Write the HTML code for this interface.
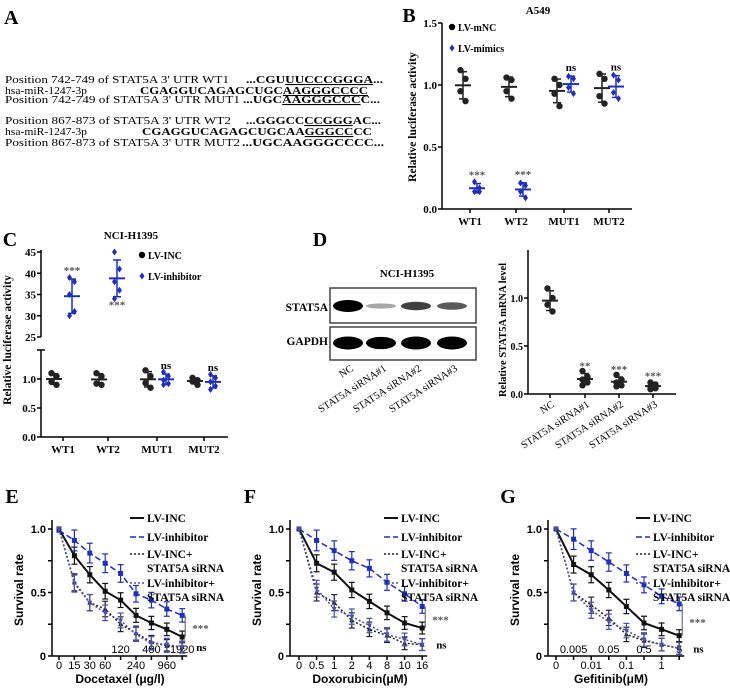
<!DOCTYPE html>
<html><head><meta charset="utf-8"><style>
body{margin:0;background:#fff}
svg{display:block;font-family:"Liberation Serif",serif}
.sans{font-family:"Liberation Sans",sans-serif}
</style></head><body>
<svg id="fig" width="730" height="693" viewBox="0 0 730 693" xmlns="http://www.w3.org/2000/svg">
<g font-size="11">
<text x="4" y="24" font-size="20" font-weight="bold">A</text>
<text x="5" y="83" textLength="224" lengthAdjust="spacingAndGlyphs">Position 742-749 of STAT5A 3' UTR WT1</text>
<text x="246" y="83" textLength="137" lengthAdjust="spacingAndGlyphs" font-weight="bold">...CGU<tspan text-decoration="underline">UUCCCGGGA</tspan>...</text>
<text x="5" y="94" textLength="82" lengthAdjust="spacingAndGlyphs">hsa-miR-1247-3p</text>
<text x="140" y="94" textLength="228" lengthAdjust="spacingAndGlyphs" font-weight="bold">CGAGGUCAGAGCUGC<tspan text-decoration="underline">AAGGGCCCC</tspan></text>
<text x="5" y="103" textLength="235" lengthAdjust="spacingAndGlyphs">Position 742-749 of STAT5A 3' UTR MUT1</text>
<text x="243" y="103" textLength="137" lengthAdjust="spacingAndGlyphs" font-weight="bold">...UGC<tspan text-decoration="underline">AAGGGCCC</tspan>C...</text>
<text x="5" y="124" textLength="226" lengthAdjust="spacingAndGlyphs">Position 867-873 of STAT5A 3' UTR WT2</text>
<text x="246" y="124" textLength="135" lengthAdjust="spacingAndGlyphs" font-weight="bold">...GGGCC<tspan text-decoration="underline">CCGGG</tspan>AC...</text>
<text x="5" y="135" textLength="82" lengthAdjust="spacingAndGlyphs">hsa-miR-1247-3p</text>
<text x="142" y="135" textLength="230" lengthAdjust="spacingAndGlyphs" font-weight="bold">CGAGGUCAGAGCUGCAA<tspan text-decoration="underline">GGGCC</tspan>CC</text>
<text x="5" y="146" textLength="235" lengthAdjust="spacingAndGlyphs">Position 867-873 of STAT5A 3' UTR MUT2</text>
<text x="242" y="146" textLength="142" lengthAdjust="spacingAndGlyphs" font-weight="bold">...UGCAAGGGCCCC...</text>
</g>
<g id="pB"></g>
<g id="pC"></g>
<g id="pD"></g>
<g id="pE"></g>
<g id="pF"></g>
<g id="pG"></g>
</svg>
<script>
// ---- Panel B data
const bCats=["WT1","WT2","MUT1","MUT2"];
const bNC=[[1.12,1.05,0.95,0.87],[1.06,1.04,0.95,0.89],[1.05,1.0,0.93,0.83],[1.09,1.05,0.91,0.85]];
const bMim=[[0.22,0.17,0.14,0.14],[0.21,0.19,0.14,0.09],[1.07,1.05,0.98,0.93],[1.08,1.04,0.94,0.89]];
const bSig=["***","***","ns","ns"];
const bTicks=[0,0.5,1.0,1.5];
// ---- Panel C data
const cCats=["WT1","WT2","MUT1","MUT2"];
const cINC=[[1.1,1.05,0.95,0.9],[1.1,1.05,0.92,0.9],[1.15,1.05,0.93,0.85],[1.02,0.98,0.96,0.9]];
const cInh=[[39,38,35,31,30],[45,41,38,36,34],[1.12,1.05,0.98,0.92,0.9],[1.08,1.02,0.95,0.88,0.82]];
const cSig=["***","***","ns","ns"];
const cTicksLow=[0,0.5,1.0];
const cTicksHigh=[25,30,35,40,45];
// ---- Panel D data
const dCats=["NC","STAT5A siRNA#1","STAT5A siRNA#2","STAT5A siRNA#3"];
const dVals=[[1.1,1.0,0.93,0.86],[0.24,0.18,0.15,0.12,0.09],[0.2,0.15,0.12,0.09,0.08],[0.12,0.1,0.08,0.06,0.05]];
const dSig=["","**","***","***"];
const dTicks=[0,0.5,1.0];
const dBandStat=[1.0,0.15,0.55,0.45];
const dBandGapdh=[1.0,0.95,1.0,1.0];
// ---- Panels E/F/G data
const eDoses=["0","15","30","60","120","240","480","960","1920"];
const eINC=[1.0,0.79,0.64,0.51,0.44,0.32,0.26,0.21,0.15];
const eInh=[0.99,0.91,0.81,0.73,0.65,0.49,0.44,0.37,0.32];
const eINCsi=[1.0,0.58,0.42,0.37,0.25,0.18,0.11,0.08,0.07];
const eInhsi=[1.0,0.57,0.42,0.34,0.28,0.17,0.10,0.09,0.07];
const fDoses=["0","0.5","1","2","4","8","10","16"];
const fINC=[1.0,0.73,0.66,0.52,0.43,0.34,0.26,0.22];
const fInh=[1.0,0.91,0.83,0.75,0.69,0.58,0.49,0.39];
const fINCsi=[1.0,0.50,0.42,0.28,0.21,0.16,0.10,0.09];
const fInhsi=[1.0,0.53,0.37,0.31,0.24,0.17,0.13,0.09];
const gDoses=["0","0.005","0.01","0.05","0.1","0.5","1","5"];
const gINC=[1.0,0.72,0.64,0.52,0.39,0.26,0.21,0.16];
const gInh=[1.0,0.92,0.83,0.74,0.65,0.56,0.47,0.41];
const gINCsi=[1.0,0.50,0.40,0.30,0.17,0.12,0.09,0.06];
const gInhsi=[1.0,0.50,0.36,0.27,0.20,0.13,0.09,0.06];
const survTicks=[0,0.5,1.0];

const NS="http://www.w3.org/2000/svg";
const BLUE="#1f2fb8";
function el(p,t,a,txt){const e=document.createElementNS(NS,t);for(const k in a)e.setAttribute(k,a[k]);if(txt!==undefined)e.textContent=txt;p.appendChild(e);return e;}
function line(p,x1,y1,x2,y2,c,w,name,dash){const e=el(p,"line",{x1,y1,x2,y2,stroke:c||"#000","stroke-width":w||1.5});if(dash)e.setAttribute("stroke-dasharray",dash);

return e;}
function txt(p,x,y,s,o,name){const e=el(p,"text",Object.assign({x,y,"font-size":11,"font-weight":"bold","text-anchor":"middle"},o||{}),s);

return e;}
function mean(a){return a.reduce((s,v)=>s+v,0)/a.length;}
function sd(a){const m=mean(a);return Math.sqrt(a.reduce((s,v)=>s+(v-m)*(v-m),0)/(a.length-1));}
function marker(p,x,y,c,type,name){let e;
 if(type==="dot")e=el(p,"circle",{cx:x,cy:y,r:3.2,fill:c});
 else if(type==="diamond")e=el(p,"polygon",{points:`${x},${y-3.5} ${x+2.5},${y} ${x},${y+3.5} ${x-2.5},${y}`,fill:c});
 else if(type==="tri")e=el(p,"polygon",{points:`${x},${y-3} ${x+2.5},${y+2} ${x-2.5},${y+2}`,fill:c});
 else if(type==="tridown")e=el(p,"polygon",{points:`${x},${y+3} ${x+2.5},${y-2} ${x-2.5},${y-2}`,fill:c});
 else e=el(p,"rect",{x:x-2.5,y:y-2.5,width:5,height:5,fill:c});
 
 return e;}
function group(p,x,vals,yf,c,type,name){
 const m=mean(vals),s=sd(vals);
 line(p,x,yf(m+s),x,yf(m-s),c,1.5,name+'-sd');
 line(p,x-4,yf(m+s),x+4,yf(m+s),c,1.5,name+'-cap');
 line(p,x-4,yf(m-s),x+4,yf(m-s),c,1.5,name+'-cap');
 line(p,x-8,yf(m),x+8,yf(m),c,2,name+'-mean');
 vals.forEach((v,i)=>marker(p,x+(i%2?2.5:-2.5),yf(v),c,type,name+'-point'));
}
function yAxis(p,x,y0,y1,ticks,yf,fmt,fs){line(p,x,y0,x,y1,"#000",1.5,'y-axis');
 ticks.forEach(t=>{line(p,x-4,yf(t),x,yf(t),"#000",1.5,'y-tick');txt(p,x-5,yf(t)+4,fmt(t),{"text-anchor":"end","font-size":fs||11},'y-tick-label');});}

// ---- Panel B
(function(){const g=document.getElementById("pB");
 const yf=v=>209-v*124;
 txt(g,409,22,"B",{"font-size":20},'panel-b-label');
 txt(g,538,14,"A549",{"font-size":11},'chart-title');
 yAxis(g,442,23,209,bTicks,yf,t=>t.toFixed(1));
 line(g,442,209,632,209,"#000",1.5,'x-axis');
 const xs=[470,516,564,609];
 bCats.forEach((c,i)=>{line(g,xs[i],209,xs[i],213,"#000",1.5,'x-tick');txt(g,xs[i],225,c,{},'x-tick-label');
  group(g,xs[i]-7,bNC[i],yf,"#222","dot",'lv-mnc-'+c.toLowerCase());
  group(g,xs[i]+7,bMim[i],yf,BLUE,"diamond",'lv-mimics-'+c.toLowerCase());
  const m=mean(bMim[i]),s=sd(bMim[i]);txt(g,xs[i]+7,yf(m+s)-5,bSig[i],{fill:bSig[i]==="ns"?"#000":"#555"},'significance');});
 marker(g,452,27,"#000","dot",'legend-marker-mnc');txt(g,458,31,"LV-mNC",{"text-anchor":"start","font-size":10},'legend-entry');
 marker(g,452,48,BLUE,"diamond",'legend-marker-mimics');txt(g,458,52,"LV-mimics",{"text-anchor":"start","font-size":10},'legend-entry');
 txt(g,0,0,"Relative luciferase activity",{transform:"translate(416,117) rotate(-90)","font-size":11.5},'y-axis-title');
})();

// ---- Panel C
(function(){const g=document.getElementById("pC");
 const yl=v=>437-v*58, yh=v=>337-(v-25)*4.25;
 txt(g,10,246,"C",{"font-size":20},'panel-c-label');
 txt(g,131,239,"NCI-H1395",{"font-size":11},'chart-title');
 yAxis(g,41,250,337,cTicksHigh,yh,t=>String(t));
 yAxis(g,41,350,437,cTicksLow,yl,t=>t.toFixed(1));
 line(g,37,350,45,350,"#000",1.5,'axis-break');
 line(g,41,437,228,437,"#000",1.5,'x-axis');
 const xs=[63,108,157,204];
 cCats.forEach((c,i)=>{line(g,xs[i],437,xs[i],441,"#000",1.5,'x-tick');txt(g,xs[i],453,c,{},'x-tick-label');
  group(g,xs[i]-9,cINC[i],yl,"#222","dot",'lv-inc-'+c.toLowerCase());
  const yf=i<2?yh:yl;group(g,xs[i]+9,cInh[i],yf,BLUE,"diamond",'lv-inhibitor-'+c.toLowerCase());
  const m=mean(cInh[i]),s=sd(cInh[i]);
  if(i===1)txt(g,xs[i]+9,yf(m-s)+12,cSig[i],{fill:"#555"},'significance');
  else txt(g,xs[i]+9,yf(m+s)-5,cSig[i],{fill:i===0?"#555":"#000"},'significance');});
 marker(g,142,255,"#000","dot",'legend-marker-inc');txt(g,148,259,"LV-INC",{"text-anchor":"start","font-size":10},'legend-entry');
 marker(g,142,276,BLUE,"diamond",'legend-marker-inhibitor');txt(g,148,280,"LV-inhibitor",{"text-anchor":"start","font-size":10},'legend-entry');
 txt(g,0,0,"Relative luciferase activity",{transform:"translate(11,340) rotate(-90)","font-size":11.5},'y-axis-title');
})();

// ---- Panel D
(function(){const g=document.getElementById("pD");
 txt(g,320,246,"D",{"font-size":20},'panel-d-label');
 txt(g,407,277,"NCI-H1395",{"font-size":11},'blot-title');
 const r1=el(g,"rect",{x:330,y:288,width:146,height:35,fill:"#fff",stroke:"#444","stroke-width":1.5});
 
 const r2=el(g,"rect",{x:330,y:327,width:146,height:33,fill:"#fff",stroke:"#444","stroke-width":1.5});
 
 txt(g,328,311,"STAT5A",{"text-anchor":"end","font-size":11.5},'blot-label');
 txt(g,328,345,"GAPDH",{"text-anchor":"end","font-size":11.5},'blot-label');
 const bx=[348,381,416,452];
 dBandStat.forEach((v,i)=>{const b=el(g,"ellipse",{cx:bx[i],cy:306,rx:15,ry:2+4*v,fill:"#000","fill-opacity":Math.min(1,0.2+v)});
  });
 dBandGapdh.forEach((v,i)=>{const b=el(g,"ellipse",{cx:bx[i],cy:343,rx:15,ry:6.5*v,fill:"#000"});
  });
 dCats.forEach((c,i)=>txt(g,0,0,c,{transform:`translate(${bx[i]+6},${370}) rotate(-33)`,"text-anchor":"end","font-size":10.5,"font-weight":"normal"},'blot-lane-label'));
 const yf=v=>394-v*96;
 yAxis(g,528,250,394,dTicks,yf,t=>t.toFixed(1),10);
 line(g,528,394,676,394,"#000",1.5,'x-axis');
 const xs=[550,585,619,653];
 dCats.forEach((c,i)=>{line(g,xs[i],394,xs[i],398,"#000",1.5,'x-tick');
  txt(g,0,0,c,{transform:`translate(${xs[i]+5},${406}) rotate(-33)`,"text-anchor":"end","font-size":10.5,"font-weight":"normal"},'x-tick-label');
  group(g,xs[i],dVals[i],yf,"#222","dot",'mrna-'+i);
  const m=mean(dVals[i]),s=sd(dVals[i]);if(dSig[i])txt(g,xs[i],yf(m+s)-4,dSig[i],{fill:"#555"},'significance');});
 txt(g,0,0,"Relative STAT5A mRNA level",{transform:"translate(506,330) rotate(-90)","font-size":10.5},'y-axis-title');
})();

// ---- Survival panels
function survival(id,L,ax,xs0,dx,doses,INC,Inh,INCsi,Inhsi,raised,title,titleX,lx){
 const g=document.getElementById(id);
 const yf=v=>656-v*127, xf=i=>xs0+i*dx;
 txt(g,ax-40,503,L,{"font-size":20},'panel-label');
 line(g,ax,520,ax,656,"#000",1.5,'y-axis');
 [0,0.25,0.5,0.75,1.0].forEach(t=>line(g,ax-4,yf(t),ax,yf(t),"#000",1.5,'y-tick'));
 survTicks.forEach(t=>txt(g,ax-6,yf(t)+4,t===0?"0":t.toFixed(1),{"text-anchor":"end","font-size":11,"class":"sans"},'y-tick-label'));
 const xend=xf(doses.length-1)+5;
 line(g,ax,656,xend,656,"#000",1.5,'x-axis');
 doses.forEach((d,i)=>{line(g,xf(i),656,xf(i),660,"#000",1.5,'x-tick');
  txt(g,xf(i),raised.includes(i)?653:669,d,{"font-size":11,"font-weight":"normal","class":"sans"},'x-tick-label');});
 txt(g,titleX,683,title,{"font-size":12,"class":"sans"},'x-axis-title');
 txt(g,0,0,"Survival rate",{transform:`translate(${ax-29},590) rotate(-90)`,"font-size":12,"class":"sans"},'y-axis-title');
 const series=[[INC,"#111","solid","sq","lv-inc"],[Inh,BLUE,"6,3","sq","lv-inhibitor"],[INCsi,"#222","2,2","tri","lv-inc-sirna"],[Inhsi,"#4a4fb0","2,2","tridown","lv-inhibitor-sirna"]];
 series.forEach(([v,c,d,m,n],si)=>{
  const pts=v.map((y,i)=>xf(i)+","+yf(y)).join(" ");
  const pl=el(g,"polyline",{points:pts,fill:"none",stroke:c,"stroke-width":si===0?2:1.5});
  if(d!=="solid")pl.setAttribute("stroke-dasharray",d);
  
  v.forEach((y,i)=>{if(i>0){const e=0.03+0.04*(si===1?1.4:1)*(1-i/(v.length*1.5));
    line(g,xf(i),yf(y+e),xf(i),yf(y-e),c,1.2,n+'-errorbar');
    line(g,xf(i)-3,yf(y+e),xf(i)+3,yf(y+e),c,1.2,n+'-errorbar-cap');
    line(g,xf(i)-3,yf(y-e),xf(i)+3,yf(y-e),c,1.2,n+'-errorbar-cap');}
   marker(g,xf(i),yf(y),c,m,n+'-point');});});
 const last=doses.length-1, xl=xf(last)+8;
 line(g,xl-5,yf(Inh[last]),xl-5,yf(INC[last]),"#555",1,'significance-bracket');
 txt(g,xl+2,yf((Inh[last]+INC[last])/2)+6,"***",{"text-anchor":"start","fill":"#555","font-size":11},'significance');
 txt(g,xl+6,yf(INCsi[last])+4,"ns",{"text-anchor":"start","font-size":11},'significance');
 const leg=[["LV-INC",522,"#111",""],["LV-inhibitor",541,BLUE,"6,3"],["LV-INC+",558,"#222","2,2"],["STAT5A siRNA",572,null],["LV-inhibitor+",587,"#4a4fb0","2,2"],["STAT5A siRNA",601,null]];
 leg.forEach(([t,y,c,d])=>{if(c){const l=line(g,lx,y-4,lx+14,y-4,c,c==="#111"?2:1.5,'legend-line');if(d)l.setAttribute("stroke-dasharray",d);}
  txt(g,lx+17,y,t,{"text-anchor":"start","font-size":11.5},'legend-entry');});
}
survival("pE","E",52,59,15.4,eDoses,eINC,eInh,eINCsi,eInhsi,[4,6,8],"Docetaxel (μg/l)",120,130);
survival("pF","F",290,299,17.6,fDoses,fINC,fInh,fINCsi,fInhsi,[],"Doxorubicin(μM)",360,384);
survival("pG","G",548,556,17.6,gDoses,gINC,gInh,gINCsi,gInhsi,[1,3,5,7],"Gefitinib(μM)",611,636);
</script>
</body></html>
